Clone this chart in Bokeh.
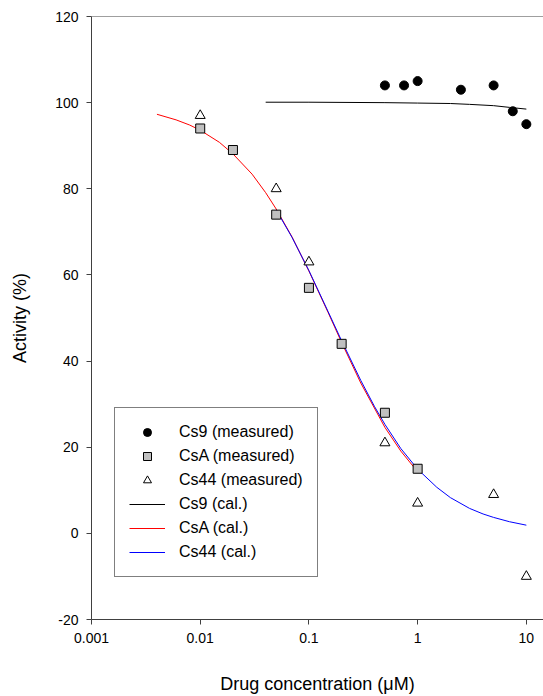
from bokeh.plotting import figure
from bokeh.models import (Range1d, FixedTicker, CustomJSTickFormatter, Legend, LegendItem, Span)
from bokeh.embed import file_html
from bokeh.resources import INLINE

# measured data
cs9_x = [0.5, 0.75, 1.0, 2.5, 5.0, 7.5, 10.0]
cs9_y = [104, 104, 105, 103, 104, 98, 95]
csa_x = [0.01, 0.02, 0.05, 0.1, 0.2, 0.5, 1.0]
csa_y = [94, 89, 74, 57, 44, 28, 15]
cs44_x = [0.01, 0.05, 0.1, 0.5, 1.0, 5.0, 10.0]
cs44_y = [97, 80, 63, 21, 7, 9, -10]

# calculated curves
cs9_cal_x = [0.04, 0.1, 0.5, 1.0, 2.0, 3.0, 5.0, 7.0, 10.0]
cs9_cal_y = [100.1, 100.1, 100.0, 99.9, 99.8, 99.6, 99.3, 98.9, 98.5]
csa_cal_x = [0.004, 0.006, 0.008, 0.01, 0.015, 0.02, 0.03, 0.04, 0.05, 0.07, 0.1,
             0.15, 0.2, 0.3, 0.5, 0.7, 1.0]
csa_cal_y = [97.3, 96.0, 94.8, 93.6, 90.8, 88.1, 83.4, 79.1, 75.3, 68.8, 60.9,
             51.3, 44.3, 34.9, 24.6, 19.1, 14.3]
cs44_cal_x = [0.05, 0.07, 0.1, 0.15, 0.2, 0.3, 0.4, 0.5, 0.7, 1.0, 1.5, 2.0, 3.0,
              4.0, 5.0, 7.0, 10.0]
cs44_cal_y = [75.1, 68.7, 61.0, 51.5, 44.7, 35.5, 29.5, 25.3, 19.7, 14.9, 10.7, 8.3, 5.8,
              4.5, 3.7, 2.7, 1.9]

x_ticks = [0.001, 0.01, 0.1, 1, 10]
y_ticks = [-20, 0, 20, 40, 60, 80, 100, 120]

FONT = "Liberation Sans"

p = figure(width=543, height=696, x_axis_type="log", output_backend="svg",
           toolbar_location=None, x_range=Range1d(0.001, 14.38), y_range=Range1d(-20, 120),
           min_border_left=91, min_border_right=0, min_border_top=16, min_border_bottom=75)
p.outline_line_color = None
p.grid.visible = False
p.background_fill_color = "white"
p.border_fill_color = "white"

top = Span(location=120, dimension="width", line_color="#404040", line_width=1)
p.add_layout(top)

for ax in (p.xaxis[0], p.yaxis[0]):
    ax.axis_line_color = "#404040"
    ax.major_tick_line_color = "#404040"
    ax.major_tick_out = 5
    ax.major_tick_in = 0
    ax.minor_tick_out = 0
    ax.minor_tick_in = 0
    ax.major_label_text_font = FONT
    ax.major_label_text_font_size = "14px"
    ax.major_label_text_color = "black"
    ax.axis_label_text_font = FONT
    ax.axis_label_text_font_size = "18px"
    ax.axis_label_text_font_style = "normal"
    ax.axis_label_text_color = "black"
    ax.formatter = CustomJSTickFormatter(code="return tick.toString();")

p.xaxis.ticker = FixedTicker(ticks=x_ticks, minor_ticks=[])
p.yaxis.ticker = FixedTicker(ticks=y_ticks, minor_ticks=[])
p.xaxis.axis_label = "Drug concentration (\u03bcM)"
p.yaxis.axis_label = "Activity (%)"
p.xaxis.major_label_standoff = 8
p.xaxis.axis_label_standoff = 28
p.yaxis.major_label_standoff = 8
p.yaxis.axis_label_standoff = 22

l9 = p.line(cs9_cal_x, cs9_cal_y, line_color="black", line_width=1)
la = p.line(csa_cal_x, csa_cal_y, line_color="#ff0000", line_width=1)
l44 = p.line(cs44_cal_x, cs44_cal_y, line_color="#0000ff", line_width=1)

m9 = p.scatter(cs9_x, cs9_y, marker="circle", size=9, fill_color="black", line_color="black")
ma = p.scatter(csa_x, csa_y, marker="square", size=9, fill_color="#c0c0c0", line_color="black", line_width=1)
m44 = p.scatter(cs44_x, cs44_y, marker="triangle", size=10, fill_color="white", line_color="black", line_width=1)

legend = Legend(items=[
    LegendItem(label="Cs9 (measured)", renderers=[m9]),
    LegendItem(label="CsA (measured)", renderers=[ma]),
    LegendItem(label="Cs44 (measured)", renderers=[m44]),
    LegendItem(label="Cs9 (cal.)", renderers=[l9]),
    LegendItem(label="CsA (cal.)", renderers=[la]),
    LegendItem(label="Cs44 (cal.)", renderers=[l44]),
], location=(23, 42))
legend.label_text_font = FONT
legend.label_text_font_size = "16px"
legend.label_text_color = "black"
legend.label_height = 20
legend.glyph_height = 20
legend.glyph_width = 36
legend.spacing = 4
legend.padding = 14
legend.label_standoff = 14
legend.border_line_color = "black"
legend.border_line_width = 1
legend.background_fill_color = "white"
legend.background_fill_alpha = 1.0
p.add_layout(legend)

open("out.html", "w").write(file_html(p, INLINE))
